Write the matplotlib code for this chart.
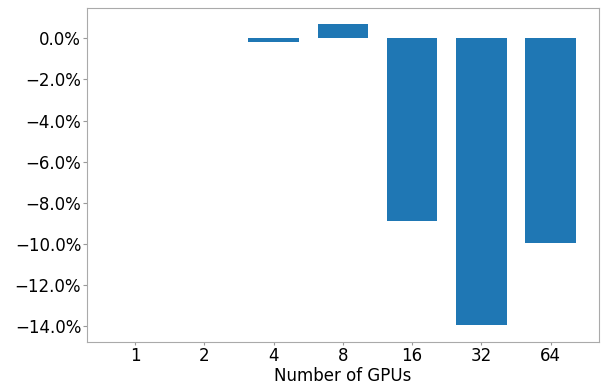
import matplotlib
matplotlib.use('Agg')
import matplotlib.pyplot as plt
from matplotlib.ticker import FuncFormatter

gpus = ['1', '2', '4', '8', '16', '32', '64']
change = [0.0, 0.0, -0.2, 0.7, -8.9, -13.95, -9.95]

fig = plt.figure(figsize=(6.03, 3.85), dpi=100)
ax = fig.add_axes([0.1438, 0.1125, 0.8496, 0.8665])

x = range(len(gpus))
ax.bar(x, change, width=0.73, color='#1f77b4')

ax.set_xticks(list(x))
ax.set_xticklabels(gpus)
ax.set_xlim(-0.7, 6.7)
ax.set_ylim(-14.74, 1.46)
ax.set_yticks([0, -2, -4, -6, -8, -10, -12, -14])
ax.yaxis.set_major_formatter(FuncFormatter(lambda v, p: ('%.1f%%' % v).replace('-', '\u2212')))
ax.tick_params(labelsize=12, colors='#999999', labelcolor='black')
ax.tick_params(axis='x', length=2, pad=2)
ax.tick_params(axis='y', length=3, pad=1)
ax.set_xlabel('Number of GPUs', fontsize=12, labelpad=1)
for s in ax.spines.values():
    s.set_color('#aaaaaa')

fig.savefig('out.png', dpi=100)
